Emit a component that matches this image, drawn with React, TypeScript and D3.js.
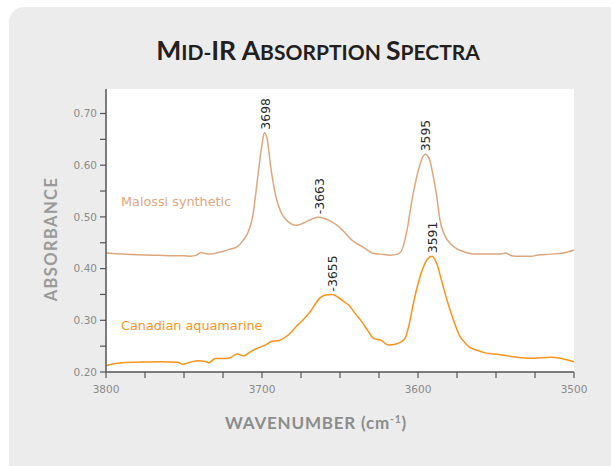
import React from "react";
import * as d3 from "d3";

const malossiWn = [3800, 3790, 3780, 3770, 3760, 3750, 3746, 3742, 3739, 3736, 3733, 3728, 3724, 3720, 3716, 3712, 3709, 3706, 3703, 3700, 3698.5, 3697, 3694, 3691, 3688, 3685, 3682, 3679, 3676, 3672, 3668, 3664, 3660, 3656, 3652, 3647, 3642, 3636, 3628, 3624, 3618, 3613, 3610.5, 3607, 3604, 3601, 3598, 3595.5, 3593, 3590, 3588, 3586, 3583, 3579.5, 3576, 3570, 3564, 3556, 3547, 3544, 3540, 3535, 3527, 3524, 3515, 3507, 3500];
const malossiAbs = [0.430, 0.428, 0.427, 0.426, 0.425, 0.425, 0.424, 0.426, 0.431, 0.429, 0.428, 0.431, 0.434, 0.438, 0.442, 0.455, 0.470, 0.500, 0.570, 0.640, 0.663, 0.655, 0.588, 0.538, 0.510, 0.496, 0.488, 0.484, 0.485, 0.490, 0.496, 0.4995, 0.497, 0.492, 0.484, 0.470, 0.454, 0.443, 0.429, 0.428, 0.426, 0.428, 0.435, 0.475, 0.530, 0.575, 0.608, 0.621, 0.614, 0.575, 0.540, 0.495, 0.465, 0.449, 0.440, 0.432, 0.428, 0.428, 0.428, 0.430, 0.425, 0.424, 0.424, 0.426, 0.428, 0.430, 0.436];

const canadianWn = [3800, 3795, 3790, 3780, 3765, 3754, 3751, 3746, 3741, 3737, 3734, 3730, 3724, 3720, 3716, 3712, 3707, 3703, 3698, 3694, 3689, 3683, 3678, 3673, 3669, 3663, 3659, 3655, 3652, 3647, 3644, 3640, 3636, 3632, 3628, 3624, 3619, 3614, 3611, 3608, 3606, 3602, 3598, 3594, 3591, 3588, 3585, 3581, 3578, 3573, 3570, 3567, 3563, 3557, 3548, 3539, 3526, 3515, 3500];
const canadianAbs = [0.212, 0.216, 0.218, 0.219, 0.220, 0.219, 0.215, 0.219, 0.222, 0.221, 0.218, 0.226, 0.226, 0.228, 0.235, 0.231, 0.240, 0.246, 0.252, 0.259, 0.261, 0.272, 0.288, 0.303, 0.317, 0.343, 0.349, 0.350, 0.346, 0.335, 0.328, 0.312, 0.297, 0.279, 0.264, 0.262, 0.252, 0.254, 0.258, 0.267, 0.288, 0.346, 0.391, 0.418, 0.424, 0.410, 0.378, 0.335, 0.307, 0.268, 0.257, 0.248, 0.243, 0.237, 0.234, 0.2296, 0.2265, 0.2284, 0.220];

const peakLabels = ["3698", "-3663", "3595", "-3655", "3591"];
const peakWn = [3698, 3663, 3595, 3655, 3591];
const peakAbs = [0.663, 0.4995, 0.621, 0.350, 0.424];

const xTickValues = d3.range(3800, 3499, -25);
const xLabelValues = [3800, 3700, 3600, 3500];
const yTickValues = d3.range(0, 11).map((i) => 0.2 + i * 0.05);
const yLabelValues = [0.2, 0.3, 0.4, 0.5, 0.6, 0.7];

const seriesNames = ["Malossi synthetic", "Canadian aquamarine"];
const seriesColors = ["#dca77d", "#f7941d"];

export default function App() {
  const x = d3.scaleLinear().domain([3800, 3500]).range([106, 574]);
  const y = d3.scaleLinear().domain([0.2, 0.7]).range([372, 113.5]);
  const line = d3
    .line<[number, number]>()
    .x((d) => x(d[0]))
    .y((d) => y(d[1]))
    .curve(d3.curveMonotoneX);

  const mal: [number, number][] = malossiWn.map((w, i) => [w, malossiAbs[i]]);
  const can: [number, number][] = canadianWn.map((w, i) => [w, canadianAbs[i]]);

  const titleFont = "Lato, 'Open Sans', sans-serif";
  const bodyFont = "'DejaVu Sans', Verdana, sans-serif";

  const titleParts: [string, boolean][] = [
    ["M", true], ["ID-", false], ["IR ", true], ["A", true], ["BSORPTION ", false], ["S", true], ["PECTRA", false],
  ];

  return (
    <svg
      width={611}
      height={466}
      style={{ position: "absolute", left: 0, top: 0, background: "#ffffff" }}
    >
      <rect x={9} y={7} width={640} height={480} rx={15} fill="#ececec" />
      <rect x={106} y={89} width={468} height={283} fill="#ffffff" />

      <text x={318} y={60} textAnchor="middle" fontFamily={titleFont} fontWeight={700} fill="#231f20">
        {titleParts.map(([t, big], i) => (
          <tspan key={i} fontSize={big ? 26.5 : 21}>{t}</tspan>
        ))}
      </text>

      {/* lines */}
      <path d={line(mal) || ""} fill="none" stroke={seriesColors[0]} strokeWidth={1.5} />
      <path d={line(can) || ""} fill="none" stroke={seriesColors[1]} strokeWidth={1.5} />

      {/* series labels */}
      <text x={121} y={206} fontFamily={bodyFont} fontSize={12.8} fill={seriesColors[0]}>{seriesNames[0]}</text>
      <text x={121} y={330} fontFamily={bodyFont} fontSize={12.8} fill={seriesColors[1]}>{seriesNames[1]}</text>

      {/* peak labels */}
      {peakLabels.map((lab, i) => {
        const px = x(peakWn[i]);
        const py = y(peakAbs[i]) - 3;
        return (
          <text
            key={lab}
            transform={`translate(${px},${py}) rotate(-90)`}
            dy="0.36em"
            fontFamily={bodyFont}
            fontSize={12.4}
            fill="#2b2b2b"
          >
            {lab}
          </text>
        );
      })}

      {/* y axis */}
      <line x1={106} x2={106} y1={89} y2={372} stroke="#555" strokeWidth={1.5} />
      {yTickValues.map((v) => (
        <line key={v} x1={100} x2={106} y1={y(v)} y2={y(v)} stroke="#555" strokeWidth={1.2} />
      ))}
      {yLabelValues.map((v) => (
        <text key={v} x={97} y={y(v)} dy="0.35em" textAnchor="end" fontFamily={bodyFont} fontSize={10.5} fill="#8a8a8a">
          {d3.format(".2f")(v)}
        </text>
      ))}

      {/* x axis */}
      <line x1={106} x2={574} y1={372} y2={372} stroke="#555" strokeWidth={1.5} />
      {xTickValues.map((v) => (
        <line key={v} x1={x(v)} x2={x(v)} y1={372} y2={378} stroke="#555" strokeWidth={1.2} />
      ))}
      {xLabelValues.map((v) => (
        <text key={v} x={x(v)} y={393} textAnchor="middle" fontFamily={bodyFont} fontSize={10.5} fill="#8a8a8a">
          {v}
        </text>
      ))}

      {/* axis titles */}
      <text
        transform="translate(57,239) rotate(-90)"
        textAnchor="middle"
        fontFamily={titleFont}
        fontWeight={700}
        fontSize={16.5}
        letterSpacing={1.4}
        fill="#9a9a9a"
      >
        ABSORBANCE
      </text>
      <text x={316} y={429} textAnchor="middle" fontFamily={titleFont} fontWeight={700} fontSize={17} letterSpacing={0.8} fill="#8c8c8c">
        WAVENUMBER (cm
        <tspan fontSize={10.5} dy={-6.5}>-1</tspan>
        <tspan dy={6.5}>)</tspan>
      </text>
    </svg>
  );
}
